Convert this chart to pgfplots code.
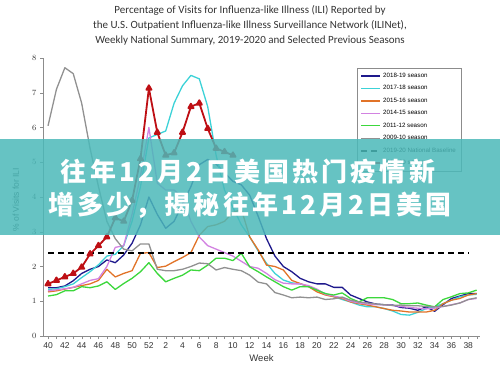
\documentclass[border=0pt]{standalone}
\usepackage{pgfplots}
\pgfplotsset{compat=1.18}
\usepackage{fontspec}
\setmainfont{Liberation Sans}
\newfontfamily\titlefont{Carlito}
\newfontfamily\cjk{Noto Sans CJK SC}[LetterSpace=12]
\definecolor{cNavy}{RGB}{30,25,140}
\definecolor{cCyan}{RGB}{60,210,215}
\definecolor{cOrange}{RGB}{225,115,40}
\definecolor{cViolet}{RGB}{210,130,225}
\definecolor{cGreen}{RGB}{60,215,60}
\definecolor{cGray}{RGB}{145,145,145}
\definecolor{cRed}{RGB}{190,15,20}
\definecolor{cBanner}{RGB}{75,185,185}
\begin{document}
\begin{tikzpicture}
\path (0pt,0pt) rectangle (500pt,375pt);
\node[align=center, text=black!80, font=\titlefont\fontsize{11}{15}\selectfont] at (250pt,350pt)
 {Percentage of Visits for Influenza-like Illness (ILI) Reported by\\
  the U.S. Outpatient Influenza-like Illness Surveillance Network (ILINet),\\
  Weekly National Summary, 2019-2020 and Selected Previous Seasons};
\begin{axis}[
  at={(43pt,39pt)}, anchor=south west,
  scale only axis, width=437pt, height=278pt,
  xmin=-0.6, xmax=51.4, ymin=0, ymax=8,
  axis lines*=left,
  axis line style={draw=black!45, -},
  xtick={0,2,...,50},
  xticklabels={40,42,44,46,48,50,52,2,4,6,8,10,12,14,16,18,20,22,24,26,28,30,32,34,36,38},
  minor xtick={0,...,51},
  ytick={0,...,8},
  tick align=outside,
  tick style={draw=black!45},
  major tick length=3pt, minor tick length=3pt,
  tick label style={font=\fontsize{8.5}{10}\selectfont, text=black!80},
  xlabel={Week}, ylabel={\% of Visits for ILI},
  x label style={at={(axis description cs:0.5,-0.079)}, anchor=center, font=\fontsize{9.5}{11}\selectfont, text=black!80},
  y label style={at={(axis description cs:-0.062,0.49)}, anchor=center, font=\fontsize{8.5}{10}\selectfont, text=black!80},
  legend style={at={(axis description cs:0.7185,0.964)}, anchor=north west,
    draw=black!45, font=\fontsize{6.2}{7}\selectfont, row sep=2.6pt,
    inner xsep=3pt, inner ysep=3pt},
  legend cell align=left,
  legend image code/.code={\draw[#1] (0pt,0pt) -- (19pt,0pt);},
  every axis plot/.append style={line width=1.3pt, line join=round},
]
\addplot[cNavy, mark=none] coordinates {
(0,1.39)(1,1.39)(2,1.44)(3,1.59)(4,1.8)(5,1.92)(6,2.0)(7,2.19)(8,2.11)(9,2.33)(10,2.67)(11,3.2)(12,4.0)
(13,3.5)(14,3.1)(15,3.3)(16,3.8)(17,4.3)(18,4.93)(19,5.08)(20,4.95)(21,4.7)(22,4.45)(23,4.35)(24,4.05)
(25,3.45)(26,2.8)(27,2.3)(28,2.0)(29,1.85)(30,1.66)(31,1.56)(32,1.5)(33,1.5)(34,1.4)(35,1.4)(36,1.18)
(37,1.08)(38,0.98)(39,0.92)(40,0.9)(41,0.89)(42,0.82)(43,0.8)(44,0.74)(45,0.84)(46,0.71)(47,0.9)
(48,1.08)(49,1.15)(50,1.22)(51,1.22)};
\addlegendentry{2018-19 season}
\addplot[cCyan, mark=none] coordinates {
(0,1.34)(1,1.36)(2,1.42)(3,1.5)(4,1.68)(5,1.85)(6,2.05)(7,2.3)(8,2.35)(9,2.6)(10,3.3)(11,4.3)(12,5.7)
(13,5.8)(14,5.9)(15,6.7)(16,7.2)(17,7.5)(18,7.4)(19,6.6)(20,5.2)(21,4.2)(22,3.7)(23,3.2)(24,2.85)
(25,2.45)(26,2.09)(27,1.8)(28,1.61)(29,1.53)(30,1.5)(31,1.42)(32,1.32)(33,1.22)(34,1.13)(35,1.05)
(36,0.98)(37,0.89)(38,0.84)(39,0.84)(40,0.79)(41,0.72)(42,0.62)(43,0.6)(44,0.68)(45,0.79)(46,0.84)
(47,0.93)(48,1.03)(49,1.13)(50,1.18)(51,1.2)};
\addlegendentry{2017-18 season}
\addplot[cOrange, mark=none] coordinates {
(0,1.27)(1,1.3)(2,1.35)(3,1.4)(4,1.45)(5,1.5)(6,1.6)(7,1.92)(8,1.7)(9,1.8)(10,1.88)(11,2.38)(12,2.4)
(13,1.97)(14,2.01)(15,2.14)(16,2.26)(17,2.4)(18,2.9)(19,3.15)(20,3.2)(21,3.3)(22,3.55)(23,3.65)(24,2.85)
(25,2.48)(26,2.04)(27,2.0)(28,1.9)(29,1.6)(30,1.51)(31,1.42)(32,1.27)(33,1.18)(34,1.13)(35,1.08)
(36,0.98)(37,0.93)(38,0.89)(39,0.84)(40,0.79)(41,0.74)(42,0.72)(43,0.69)(44,0.69)(45,0.69)(46,0.74)
(47,0.93)(48,1.03)(49,1.08)(50,1.18)(51,1.22)};
\addlegendentry{2015-16 season}
\addplot[cViolet, mark=none] coordinates {
(0,1.3)(1,1.33)(2,1.36)(3,1.4)(4,1.5)(5,1.6)(6,1.65)(7,2.0)(8,2.55)(9,2.6)(10,3.5)(11,4.6)(12,6.0)
(13,4.4)(14,4.2)(15,4.2)(16,4.0)(17,3.3)(18,2.85)(19,2.6)(20,2.5)(21,2.4)(22,2.3)(23,2.15)(24,2.0)
(25,1.95)(26,1.8)(27,1.62)(28,1.52)(29,1.5)(30,1.5)(31,1.45)(32,1.35)(33,1.2)(34,1.15)(35,1.1)
(36,1.0)(37,0.95)(38,0.92)(39,0.9)(40,0.9)(41,0.88)(42,0.85)(43,0.82)(44,0.8)(45,0.78)(46,0.8)
(47,0.85)(48,0.9)(49,0.95)(50,1.05)(51,1.08)};
\addlegendentry{2014-15 season}
\addplot[cGreen, mark=none] coordinates {
(0,1.15)(1,1.19)(2,1.3)(3,1.3)(4,1.42)(5,1.39)(6,1.44)(7,1.56)(8,1.34)(9,1.51)(10,1.66)(11,1.85)(12,2.11)
(13,1.8)(14,1.56)(15,1.66)(16,1.75)(17,1.9)(18,1.88)(19,2.04)(20,2.24)(21,2.24)(22,2.17)(23,2.38)(24,1.99)
(25,1.85)(26,1.7)(27,1.56)(28,1.42)(29,1.32)(30,1.42)(31,1.42)(32,1.32)(33,1.22)(34,1.18)(35,1.24)
(36,1.08)(37,0.98)(38,1.1)(39,1.1)(40,1.1)(41,1.05)(42,0.93)(43,0.93)(44,0.95)(45,0.89)(46,0.84)
(47,1.05)(48,1.13)(49,1.22)(50,1.24)(51,1.32)};
\addlegendentry{2011-12 season}
\addplot[cGray, mark=none] coordinates {
(0,6.05)(1,7.1)(2,7.72)(3,7.55)(4,6.7)(5,5.4)(6,4.3)(7,3.3)(8,2.8)(9,2.5)(10,2.45)(11,2.65)(12,2.65)
(13,1.92)(14,1.88)(15,1.88)(16,1.92)(17,2.0)(18,2.1)(19,2.08)(20,1.9)(21,1.97)(22,1.92)(23,1.88)(24,1.75)
(25,1.55)(26,1.5)(27,1.25)(28,1.18)(29,1.1)(30,1.12)(31,1.1)(32,1.12)(33,1.05)(34,1.07)(35,1.12)
(36,1.03)(37,0.98)(38,0.95)(39,0.92)(40,0.9)(41,0.88)(42,0.89)(43,0.87)(44,0.87)(45,0.85)(46,0.84)
(47,0.85)(48,0.89)(49,0.95)(50,1.05)(51,1.1)};
\addlegendentry{2009-10 season}
\addplot[black, line width=2pt, dash pattern=on 6pt off 4pt, mark=none] coordinates {(0,2.4)(50,2.4)};
\addlegendentry{2019-20 National Baseline}
\addplot[cRed, line width=1.8pt, mark=triangle*, mark size=3pt, mark options={solid}] coordinates {
(0,1.5)(1,1.6)(2,1.7)(3,1.8)(4,1.98)(5,2.36)(6,2.6)(7,2.85)(8,3.4)(9,3.3)(10,3.9)(11,5.1)(12,7.13)
(13,5.86)(14,5.2)(15,5.27)(16,5.86)(17,6.6)(18,6.7)(19,5.97)(20,5.4)(21,5.3)(22,5.2)};
\addlegendentry{2019-20 season}
\end{axis}
\fill[cBanner, fill opacity=0.85] (0pt,140pt) rectangle (500pt,236pt);
\node[text=white, font=\cjk\bfseries\fontsize{26}{30}\selectfont] at (248pt,203pt) {往年12月2日美国热门疫情新};
\node[text=white, font=\cjk\bfseries\fontsize{26}{30}\selectfont] at (250pt,170pt) {增多少，揭秘往年12月2日美国};
\end{tikzpicture}
\end{document}
